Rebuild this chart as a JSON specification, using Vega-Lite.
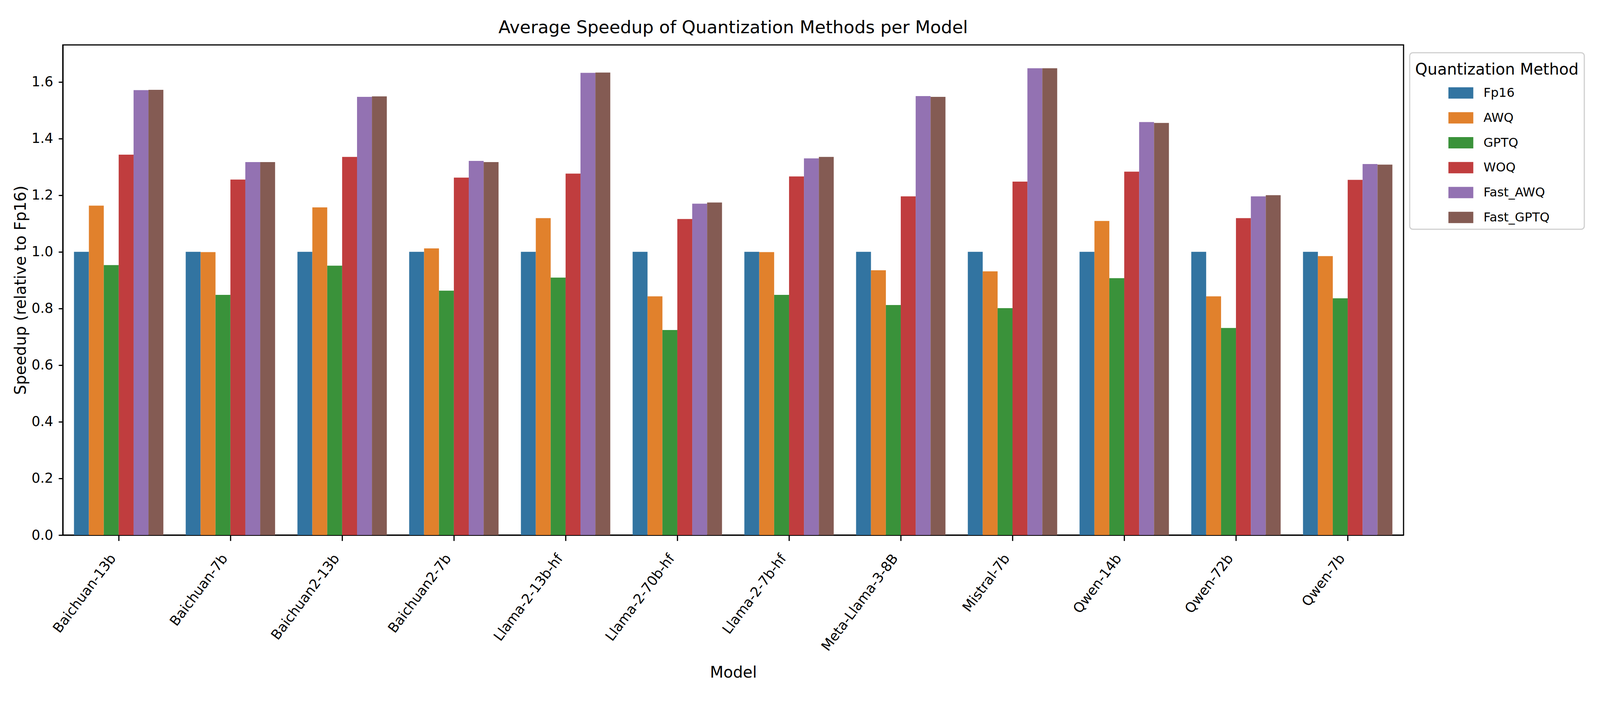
{
  "$schema": "https://vega.github.io/schema/vega-lite/v6.json",
  "autosize": {"type": "none"},
  "width": 3432.3,
  "height": 1255,
  "padding": {"left": 160.8, "top": 115, "right": 502.9, "bottom": 430},
  "background": "white",
  "title": {"text": "Average Speedup of Quantization Methods per Model", "fontSize": 45, "fontWeight": "normal", "font": "DejaVu Sans", "color": "black", "anchor": "middle", "offset": 21},
  "config": {
    "font": "DejaVu Sans",
    "view": {"stroke": "black", "strokeWidth": 3},
    "axis": {"grid": false, "domainColor": "black", "domainWidth": 3, "tickColor": "black", "tickWidth": 3, "labelColor": "black", "titleColor": "black", "labelFontSize": 35, "titleFontSize": 40, "titleFontWeight": "normal", "labelFont": "DejaVu Sans", "titleFont": "DejaVu Sans", "zindex": 1}
  },
  "data": {"values": [
    {"model": "Baichuan-13b", "method": "Fp16", "speedup": 1.0},
    {"model": "Baichuan-13b", "method": "AWQ", "speedup": 1.163},
    {"model": "Baichuan-13b", "method": "GPTQ", "speedup": 0.953},
    {"model": "Baichuan-13b", "method": "WOQ", "speedup": 1.343},
    {"model": "Baichuan-13b", "method": "Fast_AWQ", "speedup": 1.571},
    {"model": "Baichuan-13b", "method": "Fast_GPTQ", "speedup": 1.572},
    {"model": "Baichuan-7b", "method": "Fp16", "speedup": 1.0},
    {"model": "Baichuan-7b", "method": "AWQ", "speedup": 0.999},
    {"model": "Baichuan-7b", "method": "GPTQ", "speedup": 0.848},
    {"model": "Baichuan-7b", "method": "WOQ", "speedup": 1.255},
    {"model": "Baichuan-7b", "method": "Fast_AWQ", "speedup": 1.317},
    {"model": "Baichuan-7b", "method": "Fast_GPTQ", "speedup": 1.317},
    {"model": "Baichuan2-13b", "method": "Fp16", "speedup": 1.0},
    {"model": "Baichuan2-13b", "method": "AWQ", "speedup": 1.157},
    {"model": "Baichuan2-13b", "method": "GPTQ", "speedup": 0.951},
    {"model": "Baichuan2-13b", "method": "WOQ", "speedup": 1.335},
    {"model": "Baichuan2-13b", "method": "Fast_AWQ", "speedup": 1.547},
    {"model": "Baichuan2-13b", "method": "Fast_GPTQ", "speedup": 1.549},
    {"model": "Baichuan2-7b", "method": "Fp16", "speedup": 1.0},
    {"model": "Baichuan2-7b", "method": "AWQ", "speedup": 1.012},
    {"model": "Baichuan2-7b", "method": "GPTQ", "speedup": 0.863},
    {"model": "Baichuan2-7b", "method": "WOQ", "speedup": 1.262},
    {"model": "Baichuan2-7b", "method": "Fast_AWQ", "speedup": 1.321},
    {"model": "Baichuan2-7b", "method": "Fast_GPTQ", "speedup": 1.317},
    {"model": "Llama-2-13b-hf", "method": "Fp16", "speedup": 1.0},
    {"model": "Llama-2-13b-hf", "method": "AWQ", "speedup": 1.119},
    {"model": "Llama-2-13b-hf", "method": "GPTQ", "speedup": 0.909},
    {"model": "Llama-2-13b-hf", "method": "WOQ", "speedup": 1.276},
    {"model": "Llama-2-13b-hf", "method": "Fast_AWQ", "speedup": 1.632},
    {"model": "Llama-2-13b-hf", "method": "Fast_GPTQ", "speedup": 1.633},
    {"model": "Llama-2-70b-hf", "method": "Fp16", "speedup": 1.0},
    {"model": "Llama-2-70b-hf", "method": "AWQ", "speedup": 0.843},
    {"model": "Llama-2-70b-hf", "method": "GPTQ", "speedup": 0.724},
    {"model": "Llama-2-70b-hf", "method": "WOQ", "speedup": 1.116},
    {"model": "Llama-2-70b-hf", "method": "Fast_AWQ", "speedup": 1.170},
    {"model": "Llama-2-70b-hf", "method": "Fast_GPTQ", "speedup": 1.174},
    {"model": "Llama-2-7b-hf", "method": "Fp16", "speedup": 1.0},
    {"model": "Llama-2-7b-hf", "method": "AWQ", "speedup": 0.999},
    {"model": "Llama-2-7b-hf", "method": "GPTQ", "speedup": 0.848},
    {"model": "Llama-2-7b-hf", "method": "WOQ", "speedup": 1.266},
    {"model": "Llama-2-7b-hf", "method": "Fast_AWQ", "speedup": 1.330},
    {"model": "Llama-2-7b-hf", "method": "Fast_GPTQ", "speedup": 1.335},
    {"model": "Meta-Llama-3-8B", "method": "Fp16", "speedup": 1.0},
    {"model": "Meta-Llama-3-8B", "method": "AWQ", "speedup": 0.935},
    {"model": "Meta-Llama-3-8B", "method": "GPTQ", "speedup": 0.812},
    {"model": "Meta-Llama-3-8B", "method": "WOQ", "speedup": 1.196},
    {"model": "Meta-Llama-3-8B", "method": "Fast_AWQ", "speedup": 1.550},
    {"model": "Meta-Llama-3-8B", "method": "Fast_GPTQ", "speedup": 1.547},
    {"model": "Mistral-7b", "method": "Fp16", "speedup": 1.0},
    {"model": "Mistral-7b", "method": "AWQ", "speedup": 0.931},
    {"model": "Mistral-7b", "method": "GPTQ", "speedup": 0.801},
    {"model": "Mistral-7b", "method": "WOQ", "speedup": 1.248},
    {"model": "Mistral-7b", "method": "Fast_AWQ", "speedup": 1.648},
    {"model": "Mistral-7b", "method": "Fast_GPTQ", "speedup": 1.648},
    {"model": "Qwen-14b", "method": "Fp16", "speedup": 1.0},
    {"model": "Qwen-14b", "method": "AWQ", "speedup": 1.109},
    {"model": "Qwen-14b", "method": "GPTQ", "speedup": 0.907},
    {"model": "Qwen-14b", "method": "WOQ", "speedup": 1.283},
    {"model": "Qwen-14b", "method": "Fast_AWQ", "speedup": 1.458},
    {"model": "Qwen-14b", "method": "Fast_GPTQ", "speedup": 1.455},
    {"model": "Qwen-72b", "method": "Fp16", "speedup": 1.0},
    {"model": "Qwen-72b", "method": "AWQ", "speedup": 0.843},
    {"model": "Qwen-72b", "method": "GPTQ", "speedup": 0.731},
    {"model": "Qwen-72b", "method": "WOQ", "speedup": 1.119},
    {"model": "Qwen-72b", "method": "Fast_AWQ", "speedup": 1.196},
    {"model": "Qwen-72b", "method": "Fast_GPTQ", "speedup": 1.200},
    {"model": "Qwen-7b", "method": "Fp16", "speedup": 1.0},
    {"model": "Qwen-7b", "method": "AWQ", "speedup": 0.985},
    {"model": "Qwen-7b", "method": "GPTQ", "speedup": 0.836},
    {"model": "Qwen-7b", "method": "WOQ", "speedup": 1.254},
    {"model": "Qwen-7b", "method": "Fast_AWQ", "speedup": 1.310},
    {"model": "Qwen-7b", "method": "Fast_GPTQ", "speedup": 1.308}
  ]},
  "mark": {"type": "bar"},
  "encoding": {
    "x": {
      "field": "model", "type": "nominal", "sort": null,
      "scale": {"paddingInner": 0.2, "paddingOuter": 0.1},
      "axis": {"title": "Model", "tickSize": 14.6, "labelAngle": -53, "labelAlign": "right", "labelBaseline": "bottom", "labelPadding": 49, "labelOverlap": false, "labelBound": false, "labelLimit": 0, "titleY": 352, "titleBaseline": "middle"}
    },
    "xOffset": {
      "field": "method", "type": "nominal",
      "sort": ["Fp16", "AWQ", "GPTQ", "WOQ", "Fast_AWQ", "Fast_GPTQ"],
      "scale": {"domain": ["Fp16", "AWQ", "GPTQ", "WOQ", "Fast_AWQ", "Fast_GPTQ"], "paddingInner": 0, "paddingOuter": 0}
    },
    "y": {
      "field": "speedup", "type": "quantitative",
      "scale": {"domain": [0, 1.7305], "nice": false, "zero": true},
      "axis": {"title": "Speedup (relative to Fp16)", "tickSize": 11, "values": [0, 0.2, 0.4, 0.6, 0.8, 1.0, 1.2, 1.4, 1.6], "format": ".1f", "labelPadding": 14, "titleX": -107, "titleBaseline": "middle"}
    },
    "color": {
      "field": "method", "type": "nominal",
      "scale": {"domain": ["Fp16", "AWQ", "GPTQ", "WOQ", "Fast_AWQ", "Fast_GPTQ"], "range": ["#3274a1", "#e1812c", "#3a923a", "#c03d3e", "#9372b2", "#845b53"]},
      "legend": {
        "title": "Quantization Method",
        "orient": "none", "legendX": 3448, "legendY": 20,
        "padding": 14, "strokeColor": "#d0d0d0", "cornerRadius": 8, "fillColor": "white",
        "titleFontSize": 40, "titleFontWeight": "normal", "titleColor": "black", "titleFont": "DejaVu Sans", "titlePadding": 17, "titleLimit": 0,
        "labelFontSize": 32, "labelColor": "black", "labelFont": "DejaVu Sans", "labelLimit": 0,
        "symbolType": "M-1,-0.455H1V0.455H-1Z", "symbolSize": 4058, "symbolStrokeWidth": 0, "symbolOffset": 85, "labelOffset": 26, "rowPadding": 15.75,
        "encode": {"legend": {"update": {"strokeWidth": {"value": 3}}}, "title": {"update": {"dy": {"value": 10}}}}
      }
    }
  }
}
